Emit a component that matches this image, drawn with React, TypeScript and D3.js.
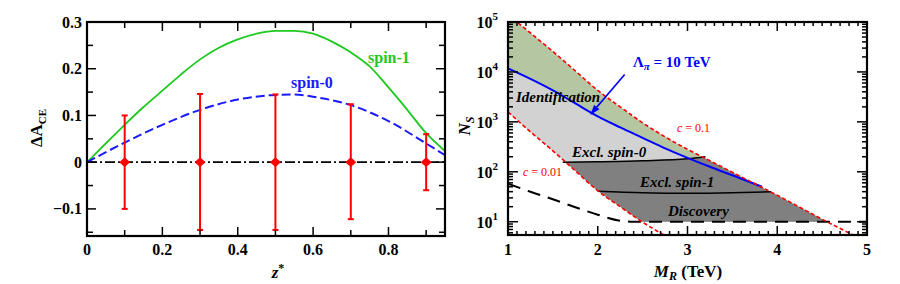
import React from 'react';
import * as d3 from 'd3';

// ---------- Left panel data ----------
const zGrid = [0, 0.05, 0.1, 0.15, 0.2, 0.25, 0.3, 0.35, 0.4, 0.45, 0.5, 0.55, 0.6, 0.65, 0.7, 0.75, 0.8, 0.85, 0.9, 0.95];
const spin1Vals = [0, 0.04, 0.08, 0.118, 0.153, 0.188, 0.22, 0.245, 0.263, 0.275, 0.281, 0.281, 0.275, 0.258, 0.235, 0.205, 0.16, 0.112, 0.062, 0.024];
const spin0Z = [0, 0.1, 0.2, 0.3, 0.4, 0.5, 0.55, 0.6, 0.7, 0.8, 0.9, 0.95];
const spin0Vals = [0, 0.042, 0.08, 0.112, 0.134, 0.144, 0.145, 0.14, 0.122, 0.088, 0.04, 0.015];
const dataZ = [0.1, 0.3, 0.5, 0.7, 0.9];
const dataVals = [0, 0, 0, 0, 0];
const errUp = [0.1, 0.146, 0.145, 0.124, 0.06];
const errDown = [0.1, 0.145, 0.145, 0.122, 0.06];
const leftXTicks = [0, 0.2, 0.4, 0.6, 0.8];
const leftXMinor = [0.1, 0.3, 0.5, 0.7, 0.9];
const leftYTicks = [-0.1, 0, 0.1, 0.2, 0.3];
const leftYMinor = [-0.15, -0.05, 0.05, 0.15, 0.25];

// ---------- Right panel data (log10 N_S) ----------
const mGrid = [1.0, 1.25, 1.5, 1.75, 2.0, 2.25, 2.5, 2.75, 3.0, 3.25, 3.5, 3.75, 4.0, 4.25, 4.5, 4.75, 5.0];
const logUpper = [5.15, 4.78, 4.41, 4.02, 3.63, 3.3, 2.98, 2.7, 2.45, 2.22, 1.99, 1.76, 1.53, 1.29, 1.05, 0.82, 0.6]; // c = 0.1
const logLower = [3.2, 2.8, 2.42, 2.02, 1.62, 1.3, 0.99, 0.72, 0.46]; // c = 0.01 (same grid, first 9)
const mBlue = [1.0, 1.25, 1.5, 1.75, 2.0, 2.25, 2.5, 2.75, 3.0, 3.25, 3.5, 3.83];
const logBlue = [4.07, 3.86, 3.63, 3.37, 3.11, 2.89, 2.68, 2.47, 2.28, 2.1, 1.93, 1.7];
const mSpin0 = [1.61, 2.0, 2.5, 3.0, 3.2];
const logSpin0 = [2.19, 2.2, 2.22, 2.26, 2.3];
const mSpin1 = [2.0, 2.5, 3.0, 3.5, 3.93];
const logSpin1 = [1.61, 1.58, 1.57, 1.58, 1.6];
const mDisc = [1.0, 1.25, 1.5, 1.75, 2.0, 2.25, 2.4, 3.0, 4.0, 5.0];
const logDisc = [1.76, 1.6, 1.45, 1.29, 1.14, 1.02, 1.0, 1.0, 1.0, 1.0];
const discoveryN = 10;
const rightXTicks = [1, 2, 3, 4, 5];
const rightYExps = [1, 2, 3, 4, 5];
const arrowFrom = [2.3, 3.95];
const arrowTo = [1.925, 3.16];

const FONT = "'Liberation Serif', 'Times New Roman', Times, serif";
const L = { x0: 87, x1: 445, y0: 22, y1: 236 };
const R = { x0: 508, x1: 867, y0: 22, y1: 235 };

export default function App() {
  const xL = d3.scaleLinear().domain([0, 0.95]).range([L.x0, L.x1]);
  const yL = d3.scaleLinear().domain([-0.158, 0.3]).range([L.y1, L.y0]);
  const xR = d3.scaleLinear().domain([1, 5]).range([R.x0, R.x1]);
  const yR = d3.scaleLog().domain([5.42, 1e5]).range([R.y1, R.y0]);
  const yRL = (lg: number) => yR(Math.pow(10, lg));

  const lineL = d3.line<[number, number]>().x(d => xL(d[0])).y(d => yL(d[1])).curve(d3.curveMonotoneX);
  const lineR = d3.line<[number, number]>().x(d => xR(d[0])).y(d => yRL(d[1])).curve(d3.curveMonotoneX);
  const zip = (a: number[], b: number[]) => a.map((v, i) => [v, b[i]] as [number, number]);

  const upperPts = zip(mGrid, logUpper);
  const lowerPts = zip(mGrid.slice(0, logLower.length), logLower);

  const bandA = d3.area<number>()
    .x(i => xR(mGrid[i]))
    .y0(i => yRL(logLower[i]))
    .y1(i => yRL(logUpper[i]))
    .curve(d3.curveMonotoneX)(d3.range(logLower.length)) || '';
  const bandB = d3.area<number>()
    .x(i => xR(mGrid[i]))
    .y0(() => R.y1 + 10)
    .y1(i => yRL(logUpper[i]))
    .curve(d3.curveMonotoneX)(d3.range(logLower.length - 1, mGrid.length)) || '';

  const blueArea = d3.area<[number, number]>()
    .x(d => xR(d[0])).y0(() => R.y1 + 10).y1(d => yRL(d[1])).curve(d3.curveMonotoneX)(zip(mBlue, logBlue)) || '';
  const darkArea = d3.area<[number, number]>()
    .x(d => xR(d[0])).y0(() => R.y1 + 10).y1(d => yRL(d[1])).curve(d3.curveMonotoneX)(zip(mSpin0, logSpin0)) || '';
  const spin0End = xR(mSpin0[mSpin0.length - 1]) - 1.5;

  const leftTicks: JSX.Element[] = [];
  leftXTicks.forEach((v, i) => {
    const x = xL(v);
    leftTicks.push(<line key={'lxb' + i} x1={x} x2={x} y1={L.y1} y2={L.y1 - 9} />);
    leftTicks.push(<line key={'lxt' + i} x1={x} x2={x} y1={L.y0} y2={L.y0 + 9} />);
  });
  leftXMinor.forEach((v, i) => {
    const x = xL(v);
    leftTicks.push(<line key={'lxbm' + i} x1={x} x2={x} y1={L.y1} y2={L.y1 - 6} />);
    leftTicks.push(<line key={'lxtm' + i} x1={x} x2={x} y1={L.y0} y2={L.y0 + 6} />);
  });
  leftYTicks.forEach((v, i) => {
    const y = yL(v);
    leftTicks.push(<line key={'lyl' + i} x1={L.x0} x2={L.x0 + 9} y1={y} y2={y} />);
    leftTicks.push(<line key={'lyr' + i} x1={L.x1} x2={L.x1 - 9} y1={y} y2={y} />);
  });
  leftYMinor.forEach((v, i) => {
    const y = yL(v);
    leftTicks.push(<line key={'lylm' + i} x1={L.x0} x2={L.x0 + 6} y1={y} y2={y} />);
    leftTicks.push(<line key={'lyrm' + i} x1={L.x1} x2={L.x1 - 6} y1={y} y2={y} />);
  });

  const rightTicks: JSX.Element[] = [];
  d3.range(10, 51).forEach(k => {
    const v = k / 10;
    const x = xR(v);
    const major = k % 10 === 0;
    const len = major ? 9 : 4;
    if (v > 1 && v < 5) {
      rightTicks.push(<line key={'rxb' + k} x1={x} x2={x} y1={R.y1} y2={R.y1 - len} />);
      rightTicks.push(<line key={'rxt' + k} x1={x} x2={x} y1={R.y0} y2={R.y0 + len} />);
    }
  });
  [0, 1, 2, 3, 4].forEach(e => {
    d3.range(1, 10).forEach(m => {
      const v = m * Math.pow(10, e);
      if (v < 5.42 || v > 1e5) return;
      const y = yR(v);
      const len = m === 1 ? 10 : 5;
      rightTicks.push(<line key={'ryl' + e + m} x1={R.x0} x2={R.x0 + len} y1={y} y2={y} />);
      rightTicks.push(<line key={'ryr' + e + m} x1={R.x1} x2={R.x1 - len} y1={y} y2={y} />);
    });
  });

  const dia = (x: number, y: number) => `M${x - 5.5},${y}L${x},${y - 4.8}L${x + 5.5},${y}L${x},${y + 4.8}Z`;

  return (
    <svg width={900} height={284} style={{ position: 'absolute', left: 0, top: 0, background: '#fff', fontFamily: FONT }}>
      <defs>
        <clipPath id="clipL"><rect x={L.x0} y={L.y0} width={L.x1 - L.x0} height={L.y1 - L.y0} /></clipPath>
        <clipPath id="clipR"><rect x={R.x0} y={R.y0} width={R.x1 - R.x0} height={R.y1 - R.y0} /></clipPath>
        <clipPath id="clipTen"><rect x={R.x0} y={R.y0} width={R.x1 - R.x0} height={yR(discoveryN) - R.y0} /></clipPath>
        <clipPath id="clipBand"><path d={bandA} /><path d={bandB} /></clipPath>
        <marker id="arrowHead" viewBox="0 0 10 10" refX="9" refY="5" markerWidth="10" markerHeight="10" orient="auto" markerUnits="userSpaceOnUse">
          <path d="M0,1.5L10,5L0,8.5Z" fill="#0000ff" />
        </marker>
      </defs>

      {/* ================= LEFT PANEL ================= */}
      <g clipPath="url(#clipL)">
        <line x1={L.x0} x2={L.x1} y1={yL(0)} y2={yL(0)} stroke="#000" strokeWidth={1.6} strokeDasharray="10,3,2,3" />
        <path d={lineL(zip(zGrid, spin1Vals)) || ''} fill="none" stroke="#1ec81e" strokeWidth={1.8} />
        <path d={lineL(zip(spin0Z, spin0Vals)) || ''} fill="none" stroke="#1a1aff" strokeWidth={2} strokeDasharray="9,4" />
        {dataZ.map((z, i) => {
          const x = xL(z);
          const yt = yL(dataVals[i] + errUp[i]);
          const yb = yL(dataVals[i] - errDown[i]);
          return (
            <g key={'eb' + i} stroke="#ff0000" strokeWidth={2} fill="#ff0000">
              <line x1={x} x2={x} y1={yt} y2={yb} />
              <line x1={x - 3} x2={x + 3} y1={yt} y2={yt} />
              <line x1={x - 3} x2={x + 3} y1={yb} y2={yb} />
              <path d={dia(x, yL(dataVals[i]))} stroke="none" />
            </g>
          );
        })}
      </g>
      <g stroke="#000" strokeWidth={1.5}>{leftTicks}</g>
      <rect x={L.x0} y={L.y0} width={L.x1 - L.x0} height={L.y1 - L.y0} fill="none" stroke="#000" strokeWidth={2.2} />
      <g fontSize={16} fontWeight="bold" fill="#000">
        {leftXTicks.map((v, i) => (
          <text key={'lxl' + i} x={xL(v)} y={255} textAnchor="middle">{v === 0 ? '0' : d3.format('.1f')(v)}</text>
        ))}
        {leftYTicks.map((v, i) => (
          <text key={'lyl' + i} x={82} y={yL(v) + 5.5} textAnchor="end">{v === 0 ? '0' : (v < 0 ? '\u2212' + d3.format('.1f')(-v) : d3.format('.1f')(v))}</text>
        ))}
      </g>
      <text x={278} y={278} textAnchor="middle" fontSize={17} fontWeight="bold" fontStyle="italic">z<tspan dy={-6} fontSize={12} fontStyle="normal">*</tspan></text>
      <text transform="translate(42,128) rotate(-90)" textAnchor="middle" fontSize={17} fontWeight="bold">ΔA<tspan dy={4} fontSize={11}>CE</tspan></text>
      <text x={368} y={63} fontSize={16} fontWeight="bold" fill="#1ec81e">spin-1</text>
      <text x={291} y={88} fontSize={16} fontWeight="bold" fill="#1a1aff">spin-0</text>

      {/* ================= RIGHT PANEL ================= */}
      <g clipPath="url(#clipR)">
        <g clipPath="url(#clipTen)">
          <g clipPath="url(#clipBand)">
            <rect x={R.x0} y={R.y0} width={R.x1 - R.x0} height={R.y1 - R.y0} fill="#b4c6a2" />
            <path d={blueArea} fill="#d2d2d2" />
            <path d={darkArea} fill="#808080" />
            <rect x={spin0End} y={R.y0} width={R.x1 - spin0End} height={R.y1 - R.y0} fill="#808080" />
          </g>
        </g>
        <path d={lineR(zip(mDisc, logDisc)) || ''} fill="none" stroke="#000" strokeWidth={2} strokeDasharray="13,8" />
        <path d={lineR(zip(mSpin0, logSpin0)) || ''} fill="none" stroke="#000" strokeWidth={1.6} />
        <path d={lineR(zip(mSpin1, logSpin1)) || ''} fill="none" stroke="#000" strokeWidth={1.6} />
        <path d={lineR(zip(mBlue, logBlue)) || ''} fill="none" stroke="#0000ff" strokeWidth={2} />
        <path d={lineR(upperPts) || ''} fill="none" stroke="#ff0000" strokeWidth={1.6} strokeDasharray="4,2.5" />
        <path d={lineR(lowerPts) || ''} fill="none" stroke="#ff0000" strokeWidth={1.6} strokeDasharray="4,2.5" />
      </g>
      <line x1={xR(arrowFrom[0])} y1={yRL(arrowFrom[1])} x2={xR(arrowTo[0])} y2={yRL(arrowTo[1])} stroke="#0000ff" strokeWidth={1.6} markerEnd="url(#arrowHead)" />
      <g stroke="#000" strokeWidth={1.5}>{rightTicks}</g>
      <rect x={R.x0} y={R.y0} width={R.x1 - R.x0} height={R.y1 - R.y0} fill="none" stroke="#000" strokeWidth={2.2} />
      <g fontSize={16} fontWeight="bold" fill="#000">
        {rightXTicks.map((v, i) => (
          <text key={'rxl' + i} x={xR(v)} y={255} textAnchor="middle">{v}</text>
        ))}
        {rightYExps.map((e, i) => (
          <text key={'ryl' + i} x={498} y={yR(Math.pow(10, e)) + 6} textAnchor="end">10<tspan dy={-8} fontSize={11}>{e}</tspan></text>
        ))}
      </g>
      <text x={688} y={277} textAnchor="middle" fontSize={17} fontWeight="bold"><tspan fontStyle="italic">M</tspan><tspan fontStyle="italic" fontSize={12} dy={3}>R</tspan><tspan dy={-3}> (TeV)</tspan></text>
      <text transform="translate(470,126) rotate(-90)" textAnchor="middle" fontSize={17} fontWeight="bold" fontStyle="italic">N<tspan fontSize={12} dy={4}>S</tspan></text>
      <text x={633} y={67} fontSize={15} fontWeight="bold" fill="#0000ff">Λ<tspan fontSize={11} fontStyle="italic" dy={3}>π</tspan><tspan dy={-3}> = 10 TeV</tspan></text>
      <text x={677} y={132} fontSize={12} fill="#ff0000"><tspan fontStyle="italic">c</tspan> = 0.1</text>
      <text x={523} y={176} fontSize={12} fill="#ff0000"><tspan fontStyle="italic">c</tspan> = 0.01</text>
      <g fontSize={15} fontWeight="bold" fontStyle="italic" fill="#000">
        <text x={516} y={102}>Identification</text>
        <text x={572} y={157}>Excl. spin-0</text>
        <text x={640} y={187}>Excl. spin-1</text>
        <text x={668} y={216}>Discovery</text>
      </g>
    </svg>
  );
}
